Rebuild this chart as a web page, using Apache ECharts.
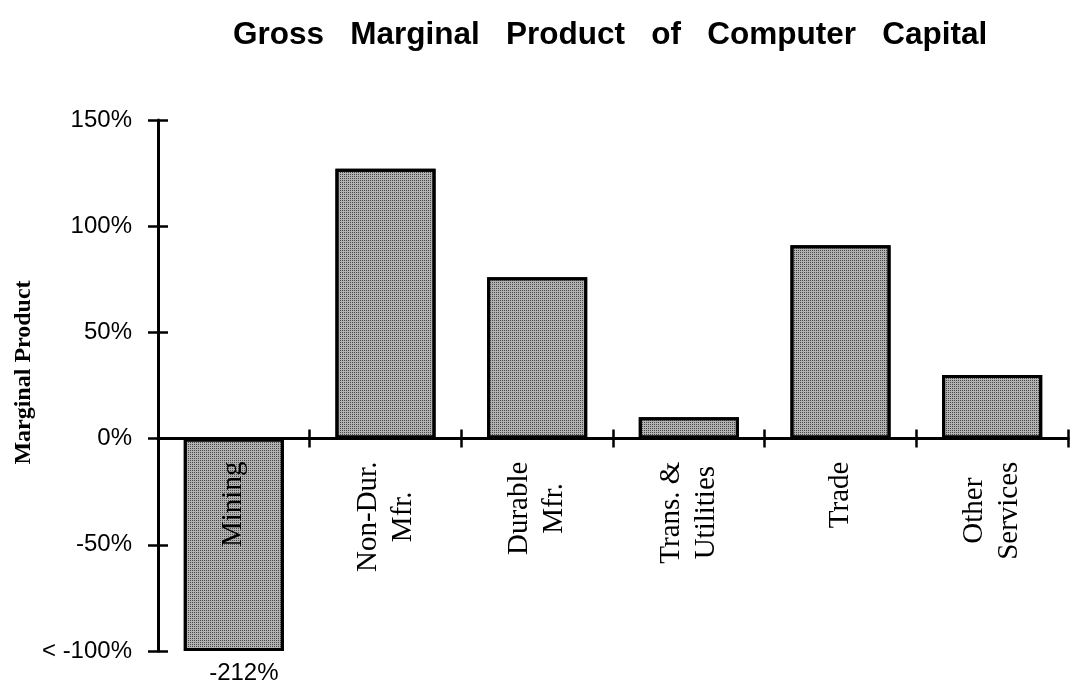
<!DOCTYPE html>
<html>
<head>
<meta charset="utf-8">
<script src="https://cdn.jsdelivr.net/npm/echarts@6/dist/echarts.min.js"></script>
<style>html,body{margin:0;padding:0;background:#fff}#c{width:1073px;height:689px}</style>
</head>
<body>
<div id="c"></div>
<script>
// ---- data ----
const titleText = 'Gross   Marginal   Product   of   Computer   Capital';
const yAxisTitle = 'Marginal Product';
const categories = ['Mining', 'Non-Dur.\nMfr.', 'Durable\nMfr.', 'Trans. &\nUtilities', 'Trade', 'Other\nServices'];
const values = [-212, 127, 76, 10, 91, 30];   // marginal product, %
const yMin = -100, yMax = 150, yStep = 50;
const yTickLabels = {'-100': '< -100%', '-50': '-50%', '0': '0%', '50': '50%', '100': '100%', '150': '150%'};

// ---- build ----
const sans = 'Liberation Sans';
const serif = 'Liberation Serif';
const W = 1073, H = 689;
const gridTop = 120, gridBottom = 38;
const plotH = H - gridTop - gridBottom;
// distance from the plot's bottom edge up to the zero line (axis labels are drawn from the zero line)
const zeroFromBottom = plotH * (0 - yMin) / (yMax - yMin);
const labelGap = 23;

const seriesData = values.map(v => {
  if (v < yMin) {
    return {
      value: yMin,
      label: {show: true, position: 'bottom', distance: 10, offset: [10, 0],
              formatter: () => v + '%', fontFamily: sans, fontSize: 24, color: '#000'}
    };
  }
  return v;
});

const chart = echarts.init(document.getElementById('c'), null, {renderer: 'canvas'});
const axisLineStyle = {color: '#000', width: 3};
const yCommon = {type: 'value', min: yMin, max: yMax, interval: yStep, splitLine: {show: false}};
const xCommon = {type: 'category', data: categories, boundaryGap: true};

chart.setOption({
  animation: false,
  backgroundColor: '#fff',
  title: {
    text: titleText, left: 228, top: 14,
    textStyle: {fontFamily: sans, fontWeight: 'bold', fontSize: 31.5, color: '#000'}
  },
  grid: {left: 158, right: 5, top: gridTop, bottom: gridBottom, containLabel: false, outerBoundsMode: 'none'},
  xAxis: [
    Object.assign({}, xCommon, {
      z: 5,
      axisLine: {show: true, onZero: true, onZeroAxisIndex: 0, lineStyle: axisLineStyle},
      axisTick: {show: true, inside: false, length: 9, lineStyle: {color: '#000', width: 2.5}},
      axisLabel: {
        interval: 0, rotate: 90, margin: labelGap - zeroFromBottom, color: '#000',
        hideOverlap: false,
        fontFamily: serif, fontSize: 29,
        formatter: v => v.split('\n').map(s => '{c|' + s + '}').join('\n'),
        rich: {c: {align: 'center', fontFamily: serif, fontSize: 29, lineHeight: 35, color: '#000'}}
      }
    }),
    Object.assign({}, xCommon, {
      position: 'bottom', z: 5,
      axisLine: {show: true, onZero: true, onZeroAxisIndex: 0, lineStyle: axisLineStyle},
      axisTick: {show: true, inside: true, length: 9, lineStyle: {color: '#000', width: 2.5}},
      axisLabel: {show: false}
    })
  ],
  yAxis: [
    Object.assign({}, yCommon, {
      position: 'left',
      axisLine: {show: true, lineStyle: axisLineStyle},
      axisTick: {show: true, inside: false, length: 10, lineStyle: {color: '#000', width: 2.5}},
      axisLabel: {margin: 26, color: '#000', fontFamily: sans, fontSize: 24,
                  formatter: v => yTickLabels[String(v)]},
      name: yAxisTitle, nameLocation: 'middle', nameGap: 122, nameMoveOverlap: false,
      nameTextStyle: {fontFamily: serif, fontWeight: 'bold', fontSize: 24, color: '#000', padding: [0, 0, 0, 26]}
    }),
    Object.assign({}, yCommon, {
      position: 'left', offset: 0,
      axisLine: {show: false},
      axisTick: {show: true, inside: true, length: 10, lineStyle: {color: '#000', width: 2.5}},
      axisLabel: {show: false}
    })
  ],
  series: [{
    type: 'bar',
    xAxisIndex: 0, yAxisIndex: 0,
    data: seriesData,
    barWidth: '66%',
    z: 2,
    itemStyle: {
      color: '#b2b2b2', borderColor: '#000', borderWidth: 3,
      decal: {symbol: 'rect', symbolSize: 1, color: '#484848', dashArrayX: [1, 1], dashArrayY: [1, 1], rotation: 0}
    },
    label: {show: false}
  }]
});
</script>
</body>
</html>
